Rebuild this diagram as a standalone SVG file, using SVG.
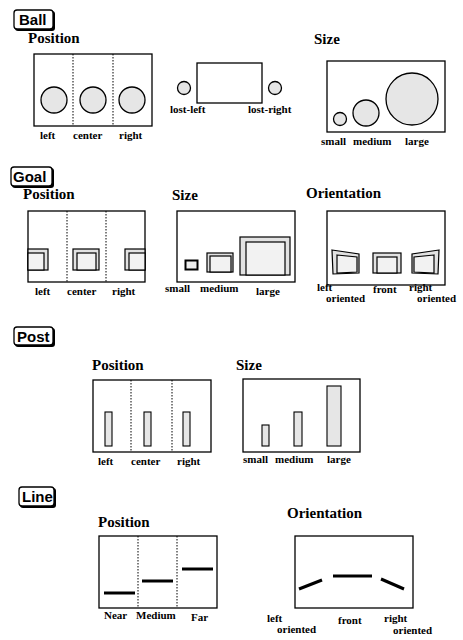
<svg xmlns="http://www.w3.org/2000/svg" width="463" height="640" viewBox="0 0 463 640">
<style>
.tag{font-family:"Liberation Sans",Arial,sans-serif;font-weight:bold;font-size:15px;fill:#000}
.ttl{font-family:"Liberation Serif","Times New Roman",serif;font-weight:bold;font-size:15px;fill:#000}
.lbl{font-family:"Liberation Serif","Times New Roman",serif;font-weight:bold;font-size:11px;fill:#000}
.frame{fill:#fff;stroke:#000;stroke-width:1.3}
.div{stroke:#000;stroke-width:1;stroke-dasharray:1.5,1.5}
.ball{fill:#e6e6e6;stroke:#000;stroke-width:1.3}
.gout{fill:#e2e2e2;stroke:#000;stroke-width:1.2}
.gin{fill:#f2f2f2;stroke:#000;stroke-width:1.2}
.post{fill:#e6e6e6;stroke:#000;stroke-width:1.1}
.ln{stroke:#000;stroke-width:3;stroke-linecap:butt}
.shadow{fill:#000}
.tagbox{fill:#fff;stroke:#000;stroke-width:1.3}
</style>
<rect width="463" height="640" fill="#fff"/>

<!-- Ball -->
<g id="ball-tag">
<rect class="shadow" x="15" y="11" width="40" height="20" rx="3"/>
<rect class="tagbox" x="14" y="10" width="39" height="19" rx="3"/>
<text class="tag" x="19" y="25">Ball</text>
</g>
<g id="ball-position">
<text class="ttl" x="28" y="43">Position</text>
<rect class="frame" x="34" y="54" width="118" height="72"/>
<line class="div" x1="73" y1="54" x2="73" y2="126"/>
<line class="div" x1="113" y1="54" x2="113" y2="126"/>
<circle class="ball" cx="54" cy="100" r="13"/>
<circle class="ball" cx="93" cy="100" r="13"/>
<circle class="ball" cx="132" cy="100" r="13"/>
<text class="lbl" x="40" y="139">left</text>
<text class="lbl" x="73" y="139">center</text>
<text class="lbl" x="119" y="139">right</text>
</g>
<g id="ball-lost">
<rect class="frame" x="197" y="63" width="65" height="40"/>
<circle class="ball" cx="184" cy="88" r="6.5"/>
<circle class="ball" cx="275" cy="88" r="6.5"/>
<text class="lbl" x="170" y="113">lost-left</text>
<text class="lbl" x="248" y="113">lost-right</text>
</g>
<g id="ball-size">
<text class="ttl" x="314" y="44">Size</text>
<rect class="frame" x="327" y="61" width="118" height="71"/>
<circle class="ball" cx="340" cy="119" r="6.5"/>
<circle class="ball" cx="366" cy="113" r="13"/>
<circle class="ball" cx="412" cy="99" r="26"/>
<text class="lbl" x="321" y="145">small</text>
<text class="lbl" x="353" y="145">medium</text>
<text class="lbl" x="405" y="145">large</text>
</g>

<!-- Goal -->
<g id="goal-tag">
<rect class="shadow" x="12" y="168" width="42" height="20" rx="3"/>
<rect class="tagbox" x="11" y="167" width="41" height="19" rx="3"/>
<text class="tag" x="13" y="182">Goal</text>
</g>
<g id="goal-position">
<text class="ttl" x="23" y="199">Position</text>
<rect class="frame" x="28" y="211" width="117" height="71"/>
<line class="div" x1="67" y1="211" x2="67" y2="282"/>
<line class="div" x1="106" y1="211" x2="106" y2="282"/>
<rect class="gout" x="28" y="249" width="20" height="21"/>
<rect class="gin" x="28" y="253" width="16" height="17"/>
<rect class="gout" x="73" y="249" width="26" height="21"/>
<rect class="gin" x="77" y="253" width="19" height="17"/>
<rect class="gout" x="125" y="249" width="20" height="21"/>
<rect class="gin" x="129" y="253" width="16" height="17"/>
<text class="lbl" x="35" y="295">left</text>
<text class="lbl" x="67" y="295">center</text>
<text class="lbl" x="112" y="295">right</text>
</g>
<g id="goal-size">
<text class="ttl" x="172" y="200">Size</text>
<rect class="frame" x="177" y="211" width="118" height="71"/>
<rect x="185.5" y="260.5" width="12" height="9" fill="#eee" stroke="#000" stroke-width="2"/>
<rect class="gout" x="207" y="253" width="26" height="19"/>
<rect class="gin" x="210" y="256" width="21" height="16"/>
<rect class="gout" x="240" y="237" width="50" height="38"/>
<rect class="gin" x="246" y="242" width="39" height="33"/>
<text class="lbl" x="165" y="292">small</text>
<text class="lbl" x="200" y="292">medium</text>
<text class="lbl" x="256" y="295">large</text>
</g>
<g id="goal-orientation">
<text class="ttl" x="306" y="198">Orientation</text>
<rect class="frame" x="327" y="211" width="118" height="74"/>
<polygon class="gout" points="332,250 359,254 359,273 333,274"/>
<polygon class="gin" points="337,255 357,257 357,272 337,273"/>
<rect class="gout" x="373" y="253" width="28" height="20"/>
<rect class="gin" x="377" y="257" width="20" height="16"/>
<polygon class="gout" points="439,250 412,254 412,273 438,274"/>
<polygon class="gin" points="434,255 414,257 414,272 434,273"/>
<text class="lbl" x="317" y="291">left</text>
<text class="lbl" x="326" y="302">oriented</text>
<text class="lbl" x="373" y="293">front</text>
<text class="lbl" x="409" y="291">right</text>
<text class="lbl" x="417" y="302">oriented</text>
</g>

<!-- Post -->
<g id="post-tag">
<rect class="shadow" x="15" y="328" width="40" height="19" rx="3"/>
<rect class="tagbox" x="14" y="327" width="39" height="18" rx="3"/>
<text class="tag" x="17" y="342">Post</text>
</g>
<g id="post-position">
<text class="ttl" x="92" y="370">Position</text>
<rect class="frame" x="93" y="380" width="118" height="72"/>
<line class="div" x1="131" y1="380" x2="131" y2="452"/>
<line class="div" x1="172" y1="380" x2="172" y2="452"/>
<rect class="post" x="105" y="412" width="7" height="34"/>
<rect class="post" x="144" y="412" width="7" height="34"/>
<rect class="post" x="183" y="412" width="7" height="34"/>
<text class="lbl" x="98" y="465">left</text>
<text class="lbl" x="131" y="465">center</text>
<text class="lbl" x="177" y="465">right</text>
</g>
<g id="post-size">
<text class="ttl" x="236" y="370">Size</text>
<rect class="frame" x="243" y="379" width="117" height="73"/>
<rect class="post" x="262" y="425" width="7" height="21"/>
<rect class="post" x="294" y="412" width="8" height="34"/>
<rect class="post" x="327" y="386" width="14" height="60"/>
<text class="lbl" x="243" y="463">small</text>
<text class="lbl" x="275" y="463">medium</text>
<text class="lbl" x="327" y="463">large</text>
</g>

<!-- Line -->
<g id="line-tag">
<rect class="shadow" x="20" y="488" width="36" height="20" rx="3"/>
<rect class="tagbox" x="19" y="487" width="35" height="19" rx="3"/>
<text class="tag" x="22" y="502">Line</text>
</g>
<g id="line-position">
<text class="ttl" x="98" y="527">Position</text>
<rect class="frame" x="99" y="536" width="118" height="72"/>
<line class="div" x1="138" y1="536" x2="138" y2="608"/>
<line class="div" x1="177" y1="536" x2="177" y2="608"/>
<line class="ln" x1="104" y1="593" x2="135" y2="593"/>
<line class="ln" x1="142" y1="581" x2="173" y2="581"/>
<line class="ln" x1="182" y1="569" x2="213" y2="569"/>
<text class="lbl" x="104" y="619">Near</text>
<text class="lbl" x="136" y="619">Medium</text>
<text class="lbl" x="191" y="621">Far</text>
</g>
<g id="line-orientation">
<text class="ttl" x="287" y="518">Orientation</text>
<rect class="frame" x="295" y="536" width="118" height="72"/>
<line class="ln" x1="299" y1="589" x2="322" y2="580"/>
<line class="ln" x1="333" y1="576" x2="372" y2="576"/>
<line class="ln" x1="381" y1="579" x2="404" y2="589"/>
<text class="lbl" x="267" y="622">left</text>
<text class="lbl" x="277" y="633">oriented</text>
<text class="lbl" x="338" y="624">front</text>
<text class="lbl" x="384" y="622">right</text>
<text class="lbl" x="393" y="634">oriented</text>
</g>
</svg>
